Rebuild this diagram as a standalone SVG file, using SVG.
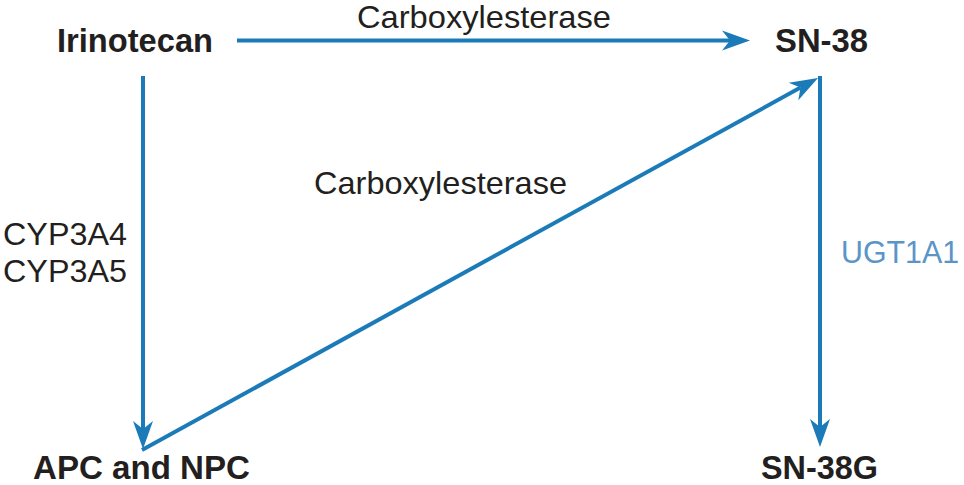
<svg xmlns="http://www.w3.org/2000/svg" width="964" height="485" viewBox="0 0 964 485">
<defs>
<style>
.node{font-family:"Liberation Sans",Arial,sans-serif;font-weight:bold;font-size:34px;fill:#231f20}
.lbl{font-family:"Liberation Sans",Arial,sans-serif;font-size:32px;fill:#231f20}
.blue{fill:#5b95c8}
.c{stroke:#1b7bb8;stroke-width:4;fill:none}
</style>
<marker id="ah" markerUnits="userSpaceOnUse" markerWidth="40" markerHeight="30" viewBox="-10 -12 40 24" refX="0" refY="0" orient="auto">
<path d="M20,0 L-8,-10 L0,0 L-8,10 Z" fill="#1b7bb8"/>
</marker>
</defs>
<rect width="964" height="485" fill="#fff"/>
<g id="connectors">
<line class="c" x1="237" y1="40.5" x2="730" y2="40.5" marker-end="url(#ah)"/>
<line class="c" x1="143" y1="76" x2="143" y2="429" marker-end="url(#ah)"/>
<line class="c" x1="820" y1="76" x2="820" y2="427" marker-end="url(#ah)"/>
<line class="c" x1="142" y1="450" x2="800.5" y2="87.6" marker-end="url(#ah)"/>
</g>
<g id="irinotecan"><text class="node" x="57" y="52" textLength="156" lengthAdjust="spacingAndGlyphs">Irinotecan</text></g>
<g id="sn38"><text class="node" x="775" y="52" textLength="93" lengthAdjust="spacingAndGlyphs">SN-38</text></g>
<g id="apc"><text class="node" x="33" y="479" textLength="217" lengthAdjust="spacingAndGlyphs">APC and NPC</text></g>
<g id="sn38g"><text class="node" x="761" y="479" textLength="117" lengthAdjust="spacingAndGlyphs">SN-38G</text></g>
<g id="labels">
<text class="lbl" x="357" y="28" textLength="254" lengthAdjust="spacingAndGlyphs">Carboxylesterase</text>
<text class="lbl" x="314" y="194" textLength="253" lengthAdjust="spacingAndGlyphs">Carboxylesterase</text>
<text class="lbl" x="3" y="245" textLength="124" lengthAdjust="spacingAndGlyphs">CYP3A4</text>
<text class="lbl" x="3" y="282" textLength="124" lengthAdjust="spacingAndGlyphs">CYP3A5</text>
<text class="lbl blue" x="841" y="263" textLength="118" lengthAdjust="spacingAndGlyphs">UGT1A1</text>
</g>
</svg>
